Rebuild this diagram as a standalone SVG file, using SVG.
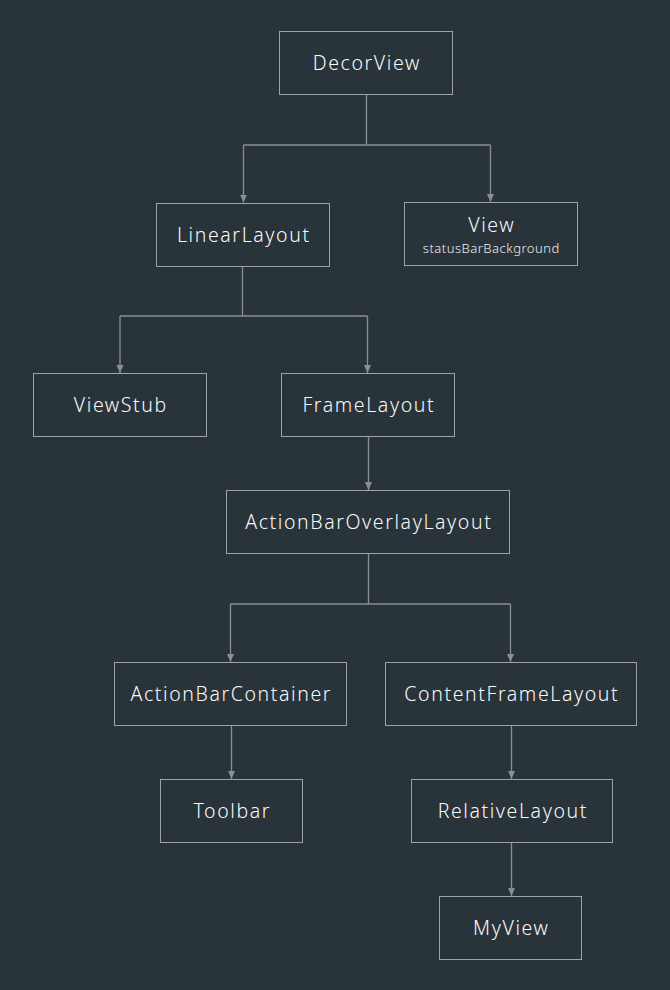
<svg xmlns="http://www.w3.org/2000/svg" width="670" height="990" viewBox="0 0 670 990">
<defs>
<style>
.box{fill:none;stroke:#9ea3a6;stroke-width:1}
.lbl{font-family:"Noto Sans","Liberation Sans",sans-serif;font-size:19.5px;font-weight:300;fill:#fafafa;text-anchor:middle;letter-spacing:1.6px}
.sub{font-family:"Noto Sans","Liberation Sans",sans-serif;font-size:13px;font-weight:300;fill:#f0f0f0;text-anchor:middle;letter-spacing:0.5px}
.ln{fill:none;stroke:#8a8f93;stroke-width:1.3}
</style>
<marker id="ah" viewBox="0 0 8 8" refX="8" refY="4" markerWidth="8" markerHeight="8" markerUnits="userSpaceOnUse" orient="auto">
<path d="M0,0.5 L8,4 L0,7.5 Z" fill="#8a8f93"/>
</marker>
</defs>
<rect width="670" height="990" fill="#29333a"/>
<g id="connectors">
<path class="ln" d="M366.5,94.5 V145 M243.5,145 H490.5 M243.5,145 V202.5" marker-end="url(#ah)"/>
<path class="ln" d="M490.5,145 V202" marker-end="url(#ah)"/>
<path class="ln" d="M242.5,266.5 V316 M120,316 H367.5 M120,316 V373" marker-end="url(#ah)"/>
<path class="ln" d="M367.5,316 V373" marker-end="url(#ah)"/>
<path class="ln" d="M368.5,436.5 V490" marker-end="url(#ah)"/>
<path class="ln" d="M368.5,553.5 V604 M230.5,604 H510.5 M230.5,604 V662" marker-end="url(#ah)"/>
<path class="ln" d="M510.5,604 V662" marker-end="url(#ah)"/>
<path class="ln" d="M231.5,725.5 V779" marker-end="url(#ah)"/>
<path class="ln" d="M511.5,725.5 V779" marker-end="url(#ah)"/>
<path class="ln" d="M511.5,842.5 V896" marker-end="url(#ah)"/>
</g>
<g id="DecorView"><rect class="box" x="279.5" y="31.5" width="173" height="63"/><text class="lbl" x="366.8" y="70">DecorView</text></g>
<g id="LinearLayout"><rect class="box" x="156.5" y="203.5" width="173" height="63"/><text class="lbl" x="243.8" y="242">LinearLayout</text></g>
<g id="View"><rect class="box" x="404.5" y="202.5" width="173" height="63"/><text class="lbl" x="491.8" y="231.5">View</text><text class="sub" x="491.3" y="252.5">statusBarBackground</text></g>
<g id="ViewStub"><rect class="box" x="33.5" y="373.5" width="173" height="63"/><text class="lbl" x="120.8" y="412">ViewStub</text></g>
<g id="FrameLayout"><rect class="box" x="281.5" y="373.5" width="173" height="63"/><text class="lbl" x="368.8" y="412">FrameLayout</text></g>
<g id="ActionBarOverlayLayout"><rect class="box" x="226.5" y="490.5" width="283" height="63"/><text class="lbl" x="368.8" y="529">ActionBarOverlayLayout</text></g>
<g id="ActionBarContainer"><rect class="box" x="114.5" y="662.5" width="232" height="63"/><text class="lbl" x="231.3" y="701">ActionBarContainer</text></g>
<g id="ContentFrameLayout"><rect class="box" x="385.5" y="662.5" width="251" height="63"/><text class="lbl" x="511.8" y="701">ContentFrameLayout</text></g>
<g id="Toolbar"><rect class="box" x="160.5" y="779.5" width="142" height="63"/><text class="lbl" x="232.3" y="818">Toolbar</text></g>
<g id="RelativeLayout"><rect class="box" x="411.5" y="779.5" width="201" height="63"/><text class="lbl" x="512.8" y="818">RelativeLayout</text></g>
<g id="MyView"><rect class="box" x="439.5" y="896.5" width="142" height="63"/><text class="lbl" x="511.3" y="935">MyView</text></g>
</svg>
